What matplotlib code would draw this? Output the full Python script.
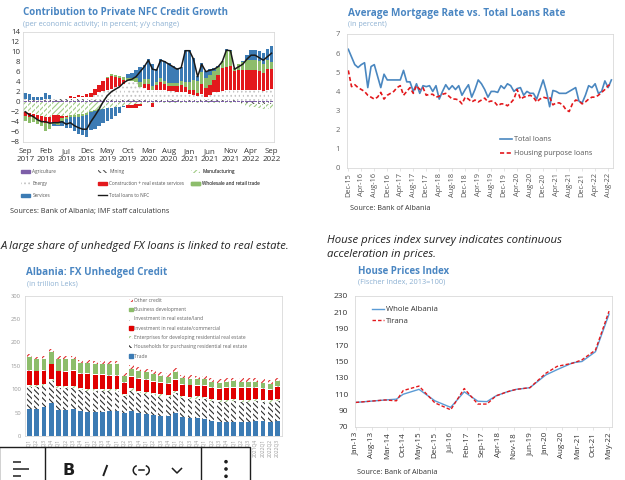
import matplotlib
matplotlib.use('Agg')
import matplotlib.pyplot as plt
from matplotlib.patches import Patch, Rectangle, Arc, Circle
from matplotlib.lines import Line2D
import numpy as np
import pandas as pd

plt.rcParams['font.family'] = ['Open Sans', 'DejaVu Sans']
plt.rcParams['hatch.linewidth'] = 0.8

W, H = 625, 480

# --- Contribution to private NFC credit growth, Sep 2017 - Sep 2022 (monthly, pp)
agriculture = [0.1, 0.1, 0.1, 0.1, 0.1, 0.1, 0.1, 0.1, 0.2, 0.2,
               0.2, 0.2, 0.2, 0.2, 0.2, 0.2, 0.1, 0.1, 0.1, 0.1,
               0.1, 0.1, 0.1, 0.1, 0.1, 0.1, 0.1, 0.1, 0.2, 0.2,
               0.2, 0.2, 0.2, 0.2, 0.2, 0.2, 0.2, 0.2, 0.2, 0.2,
               0.2, 0.2, 0.2, 0.2, 0.2, 0.2, 0.2, 0.2, 0.2, 0.2,
               0.2, 0.2, 0.2, 0.2, 0.2, 0.2, 0.2, 0.2, 0.2, 0.2, 0.2]
mining = [0.2, 0.2, 0.2, 0.2, 0.2, 0.3, 0.3, 0.3, 0.3, 0.3,
          0.3, 0.3, 0.3, 0.3, 0.3, 0.3, 0.3, 0.3, 0.3, 0.3,
          0.3, 0.3, 0.3, 0.3, 0.3, 0.3, 0.3, 0.3, 0.2, 0.2,
          0.2, 0.2, 0.2, 0.2, 0.2, 0.2, 0.2, 0.2, 0.2, 0.2,
          0.2, 0.2, 0.2, 0.2, 0.2, 0.2, 0.2, 0.2, 0.2, 0.2,
          0.2, 0.2, -0.2, -0.3, -0.3, -0.4, -0.4, -0.5, -0.5, -0.5, -0.5]
manufacturing = [-2.0, -2.2, -2.4, -2.6, -2.8, -3.0, -3.0, -2.7, -2.7, -2.8,
                 -2.8, -2.6, -2.6, -2.5, -2.4, -2.2, -1.8, -1.6, -1.5, -1.4,
                 -1.3, -1.2, -1.1, -1.0, -0.8, -0.7, -0.6, -0.5, -0.4, -0.3,
                 -0.3, -0.3, -0.2, -0.2, -0.2, -0.2, -0.2, -0.2, -0.2, -0.2,
                 -0.2, -0.2, -0.2, -0.2, -0.2, -0.2, -0.2, -0.2, -0.2, -0.2,
                 -0.2, -0.3, -0.3, -0.3, -0.5, -0.6, -0.7, -0.8, -0.9, -1.0, -1.0]
energy = [0.2, 0.1, 0.1, 0.1, 0.1, 0.1, 0.1, 0.2, 0.2, 0.3,
          0.3, 0.3, 0.3, 0.5, 0.5, 0.5, 0.5, 1.0, 1.5, 1.8,
          2.0, 2.2, 2.5, 2.8, 3.2, 3.8, 3.8, 3.5, 2.5, 2.3,
          2.0, 2.0, 2.0, 2.0, 2.0, 1.8, 1.8, 1.5, 1.5, 1.5,
          1.2, 1.0, 0.8, 1.2, 0.5, 1.0, 1.5, 1.5, 1.8, 2.0,
          2.0, 2.0, 2.2, 2.2, 2.2, 2.2, 2.2, 2.2, 2.0, 2.2, 2.3]
construction = [-0.8, -0.8, -0.6, -0.8, -1.0, -1.3, -1.2, -1.5, -1.6, -0.5,
                -0.3, 0.3, 0.2, 0.3, 0.2, 0.5, 0.8, 1.2, 1.5, 2.0,
                2.4, 2.6, 2.0, 1.5, 0.8, -0.5, -0.7, -0.8, -0.5, 0.8,
                1.2, -0.8, 1.0, 1.5, 1.2, 1.0, 1.0, 1.2, 1.5, 1.0,
                0.8, 1.0, 0.5, 2.0, 1.8, 2.0, 2.5, 3.5, 4.5, 4.5,
                4.8, 3.8, 4.0, 4.0, 4.0, 4.0, 4.0, 3.7, 3.5, 4.2, 4.0]
wholesale = [-1.0, -1.2, -1.0, -1.1, -1.1, -1.5, -1.3, -0.3, -0.3, -0.5,
             -0.4, -0.5, -0.5, -0.6, -0.5, -0.5, -0.3, -0.3, -0.2, 0.0,
             0.2, 0.3, 0.5, 0.5, 0.5, 0.5, 0.6, 0.8, 1.0, 1.0,
             1.0, 0.8, 0.6, 0.8, 0.6, 0.5, 0.5, 0.6, 0.8, 1.0,
             1.5, 2.0, 2.5, 2.3, 2.0, 2.0, 1.8, 1.5, 1.5, 3.3,
             3.0, 0.6, 1.1, 1.5, 1.9, 2.0, 2.0, 2.0, 1.8, 1.7, 1.5]
services = [1.3, 1.2, 0.6, 0.5, 0.5, 1.3, 0.8, -0.3, -0.3, -1.0,
            -1.8, -2.2, -2.7, -3.4, -3.8, -4.3, -3.6, -3.5, -3.2, -2.8,
            -2.5, -2.3, -1.8, -1.2, -0.3, 0.8, 1.0, 1.6, 3.0, 2.8,
            4.0, 4.4, 2.5, 3.8, 4.0, 4.0, 3.5, 3.0, 2.8, 6.5,
            6.5, 4.3, 1.0, 1.8, 1.5, 1.1, 0.5, 0.3, 0.0, 0.3,
            0.2, 0.0, 0.0, 0.2, 1.0, 1.9, 2.0, 2.0, 2.2, 2.2, 3.2]
total_nfc = [-2.0, -2.6, -3.0, -3.6, -4.0, -4.0, -4.3, -4.2, -4.2, -4.0,
             -4.5, -4.2, -4.8, -5.2, -5.5, -5.5, -4.0, -2.8, -1.5, 0.0,
             1.2, 2.0, 2.5, 3.0, 3.8, 4.3, 4.5, 5.0, 6.0, 7.0,
             8.3, 6.5, 6.3, 8.3, 8.0, 7.5, 7.0, 6.5, 6.8, 10.2,
             10.2, 8.5, 5.0, 7.5, 6.0, 6.3, 6.5, 7.0, 8.0, 10.3,
             10.2, 6.5, 7.0, 7.5, 8.5, 9.3, 9.3, 8.8, 8.3, 9.0, 9.7]
nfc_months = pd.period_range('2017-09', periods=61, freq='M')

# --- Average mortgage rate vs total loans rate, Dec 2015 - Sep 2022 (percent)
total_loans = [6.2, 5.8, 5.4, 5.25, 5.4, 5.5, 4.2, 5.3, 5.4, 4.8,
               4.2, 4.9, 4.6, 4.6, 4.6, 4.6, 4.6, 5.1, 4.5, 4.5,
               4.0, 4.4, 3.9, 4.3, 4.25, 4.3, 4.0, 4.3, 3.6, 4.0,
               4.35, 4.1, 4.3, 4.1, 4.3, 3.8, 4.1, 4.35, 3.7, 4.1,
               4.6, 4.4, 4.1, 3.7, 4.0, 4.0, 3.95, 4.3, 4.15, 4.4,
               4.3, 4.0, 4.15, 4.2, 3.8, 4.0, 3.9, 3.9, 3.6, 4.1,
               4.6, 4.0, 3.2, 4.05, 4.0, 3.9, 3.9, 3.9, 4.0, 4.1,
               4.2, 3.5, 3.4, 3.8, 4.3, 4.2, 4.4, 3.9, 4.0, 4.55,
               4.2, 4.6]
housing_loans = [5.1, 4.25, 4.35, 4.2, 4.1, 4.0, 3.8, 3.7, 3.6, 3.7,
                 3.95, 3.6, 3.8, 3.9, 4.0, 4.2, 4.3, 3.8, 4.0, 4.2,
                 3.9, 4.3, 4.1, 4.2, 3.8, 3.85, 3.85, 3.7, 3.75, 3.85,
                 3.9, 3.75, 3.6, 3.6, 3.55, 3.35, 3.7, 3.6, 3.45, 3.55,
                 3.45, 3.55, 3.65, 3.45, 3.5, 3.45, 3.25, 3.35, 3.35, 3.25,
                 3.4, 3.6, 4.1, 3.6, 3.7, 3.75, 3.8, 3.7, 3.45, 3.6,
                 3.7, 3.65, 3.7, 3.3, 3.4, 3.4, 3.3, 3.05, 2.95, 3.35,
                 3.55, 3.5, 3.35, 3.45, 3.6, 3.7, 3.7, 3.8, 3.95, 4.1,
                 4.3, 4.4]
rate_months = pd.period_range('2015-12', periods=82, freq='M')

# --- FX unhedged credit, 2014Q1 - 2022Q3 (trillion Leks)
fx_quarters = [str(q) for q in pd.period_range('2014Q1', '2022Q3', freq='Q')]
trade = [58, 57, 62, 70, 55, 56, 57, 53, 52, 52, 52, 53, 53, 49, 53, 50, 47, 45,
         42, 42, 49, 40, 38, 38, 37, 33, 31, 30, 31, 31, 31, 32, 32, 29, 33]
households = [46, 47, 45, 47, 47, 46, 46, 45, 45, 44, 44, 44, 44, 36, 44, 42, 42, 42,
              42, 41, 42, 41, 41, 42, 42, 42, 42, 43, 43, 42, 42, 42, 41, 42, 42]
enterprises = [4, 4, 4, 4, 4, 4, 4, 4, 4, 4, 4, 4, 4, 4, 5, 5, 5, 5,
               5, 5, 5, 5, 5, 5, 5, 5, 5, 5, 5, 5, 5, 5, 5, 5, 5]
commercial = [31, 30, 28, 32, 32, 31, 32, 30, 31, 30, 30, 28, 28, 24, 24, 24, 25, 24,
              24, 23, 24, 23, 24, 22, 23, 22, 22, 24, 24, 24, 24, 23, 23, 23, 24]
land = [2, 2, 2, 2, 2, 2, 2, 2, 2, 2, 2, 2, 2, 2, 2, 2, 2, 2,
        2, 2, 2, 2, 2, 2, 2, 2, 2, 2, 2, 2, 2, 2, 2, 2, 2]
business = [28, 24, 24, 24, 25, 25, 24, 23, 22, 22, 22, 22, 22, 14, 16, 16, 15, 15,
            14, 14, 14, 12, 12, 12, 12, 11, 11, 11, 12, 12, 12, 11, 11, 10, 11]
other_credit = [6, 5, 6, 7, 7, 7, 7, 6, 6, 7, 7, 8, 8, 6, 8, 8, 8, 8,
                8, 8, 9, 8, 8, 8, 8, 8, 8, 8, 8, 8, 8, 8, 8, 8, 8]

# --- House prices index (2013=100)
hpi_dates = ['2013-01', '2014-02', '2014-07', '2014-10', '2015-05', '2015-12', '2016-07',
             '2017-01', '2017-07', '2017-11', '2018-03', '2018-08', '2018-12', '2019-06',
             '2020-01', '2020-06', '2021-01', '2021-05', '2021-11', '2022-05']
whole_albania = [100, 103, 104, 110, 116, 102, 94, 113, 101.5, 101,
                 108, 113, 116, 118, 133.5, 140, 148.5, 150, 162, 208]
tirana = [100, 103, 102, 114.5, 120, 99.5, 91, 117, 98, 98,
          108, 113, 116, 118, 135.5, 144, 148, 152, 164, 211.5]

TITLE_C = '#4a86c2'
SUB_C = '#8cb0d2'
BLUE = '#3c7bb4'
RED = '#e3181c'
GREEN = '#8dbd6b'
FRAME = '#d9d9d9'


def px_box(x0, y0, x1, y1):
    return [x0 / W, 1 - y1 / H, (x1 - x0) / W, (y1 - y0) / H]


def frame(ax):
    for s in ax.spines.values():
        s.set_color(FRAME)
        s.set_linewidth(0.6)


fig = plt.figure(figsize=(W / 100, H / 100), dpi=100)
renderer = fig.canvas.get_renderer()

# overlay in pixel coordinates for texts, legends and the editor toolbar
ov = fig.add_axes([0, 0, 1, 1], zorder=10)
ov.set_xlim(0, W)
ov.set_ylim(H, 0)
ov.axis('off')


def label(x, y, s, width=None, size=6, **kw):
    t = ov.text(x, y, s, fontsize=size, va='center', ha='left', **kw)
    if width:
        w = t.get_window_extent(renderer).width
        t.set_fontsize(size * width / w)
    return t


# ================= top left: NFC credit growth =================
ax1 = fig.add_axes(px_box(22.7, 31.7, 274, 141.7))
x = np.arange(len(total_nfc))
styles = [
    ('Agriculture', agriculture, dict(color='#7d5fa8')),
    ('Mining', mining, dict(facecolor='white', edgecolor='#555555', hatch='\\\\\\\\\\\\', linewidth=0)),
    ('Manufacturing', manufacturing, dict(facecolor='white', edgecolor='#a0cb85', hatch='//////', linewidth=0)),
    ('Energy', energy, dict(facecolor='white', edgecolor='#c4c4c4', hatch='....', linewidth=0)),
    ('Construction + real estate services', construction, dict(color=RED)),
    ('Wholesale and retail trade', wholesale, dict(color=GREEN)),
    ('Services', services, dict(color=BLUE)),
]
pos = np.zeros(len(x))
neg = np.zeros(len(x))
handles1 = {}
for name, vals, st in styles:
    v = np.array(vals)
    ax1.bar(x, v, bottom=np.where(v >= 0, pos, neg), width=0.82, **st)
    pos += np.clip(v, 0, None)
    neg += np.clip(v, None, 0)
    handles1[name] = Patch(**st)
ax1.plot(x, total_nfc, color='#1a1a1a', lw=1.1)
handles1['Total loans to NFC'] = Line2D([], [], color='#1a1a1a', lw=1.0)
ax1.set_xlim(-0.6, 60.6)
ax1.set_ylim(-8, 14)
ax1.set_yticks(np.arange(-8, 15, 2))
ax1.set_xticks(x[::5])
ax1.set_xticklabels([p.strftime('%b\n%Y') for p in nfc_months[::5]])
ax1.tick_params(length=0, labelsize=5.7, colors='#333333', pad=2)
ax1.tick_params(axis='x', pad=4.5)
frame(ax1)

label(22.7, 12.5, 'Contribution to Private NFC Credit Growth', 207, color=TITLE_C, weight='bold')
label(22.7, 24.5, '(per economic activity; in percent; y/y change)', 158, color=SUB_C)
label(10, 211, 'Sources: Bank of Albania; IMF staff calculations', 158, color='#333333')

cols = [['Agriculture', 'Energy', 'Services'],
        ['Mining', 'Construction + real estate services', 'Total loans to NFC'],
        ['Manufacturing', 'Wholesale and retail trade']]
for cx, names in zip([21, 98, 191], cols):
    lg = ov.legend([handles1[n] for n in names], names, loc='upper left',
                   bbox_to_anchor=(cx, 169.5), bbox_transform=ov.transData,
                   frameon=False, fontsize=3.4, handlelength=2.0, handleheight=0.6,
                   handletextpad=0.4, labelspacing=1.4, borderpad=0, borderaxespad=0,
                   labelcolor='#555555')
    ov.add_artist(lg)

# ================= top right: mortgage rate =================
ax2 = fig.add_axes(px_box(347, 34, 613, 168))
xm = np.arange(len(total_loans))
ax2.plot(xm, total_loans, color='#4a87c0', lw=1.2, label='Total loans')
ax2.plot(xm, housing_loans, color=RED, lw=1.2, ls=(0, (2.5, 1.5)), label='Housing purpose loans')
ax2.set_xlim(-0.4, 81.5)
ax2.set_ylim(0, 7)
ax2.set_xticks(xm[::4])
ax2.set_xticklabels([p.strftime('%b-%y') for p in rate_months[::4]], rotation=90)
ax2.tick_params(axis='y', length=0, labelsize=5.5, colors='#666666', pad=5)
ax2.tick_params(axis='x', length=2, width=0.5, color=FRAME, labelsize=5.3,
                labelcolor='#555555', pad=1.5)
frame(ax2)
ax2.legend(loc='upper left', bbox_to_anchor=((500 - 347) / 266, (168 - 136) / 134),
           frameon=False, fontsize=5.2, handlelength=1.6, handletextpad=0.3,
           labelspacing=1.0, borderpad=0, borderaxespad=0, labelcolor='#555555')

label(348, 13.3, 'Average Mortgage Rate vs. Total Loans Rate', 216, color=TITLE_C, weight='bold')
label(348, 25, '(in percent)', 39, color=SUB_C)
label(350, 209, 'Source: Bank of Albania', 80, color='#333333')

# ================= bottom left: FX unhedged credit =================
ax3 = fig.add_axes(px_box(25, 295.7, 282, 436))
xq = np.arange(len(trade))
fx_series = [
    ('Trade', trade, dict(color=BLUE)),
    ('Households for purchasing residential real estate', households,
     dict(facecolor='white', edgecolor='#2e2e2e', hatch='\\\\\\\\\\\\', linewidth=0)),
    ('Enterprises for developing residential real estate', enterprises,
     dict(facecolor='white', edgecolor='#a0cb85', hatch='//////', linewidth=0)),
    ('Investment in real estate/commercial', commercial, dict(color='#e00000')),
    ('Investment in real estate/land', land,
     dict(facecolor='white', edgecolor='#a8a8a8', hatch='\\\\\\\\', linewidth=0)),
    ('Business development', business, dict(color=GREEN)),
    ('Other credit', other_credit,
     dict(facecolor='white', edgecolor='#e03030', hatch='//////', linewidth=0)),
]
base = np.zeros(len(xq))
h3, l3 = [], []
for name, vals, st in fx_series:
    ax3.bar(xq, vals, bottom=base, width=0.68, **st)
    base += np.array(vals)
    h3.append(Patch(**st))
    l3.append(name)
ax3.set_xlim(-0.6, 34.6)
ax3.set_ylim(0, 300)
ax3.set_yticks(np.arange(0, 301, 50))
ax3.set_xticks(xq)
ax3.set_xticklabels(fx_quarters, rotation=90)
ax3.tick_params(length=0, labelsize=4.2, colors='#999999', pad=3)
ax3.tick_params(axis='x', labelsize=3.6, pad=2)
frame(ax3)
ax3.legend(h3[::-1], l3[::-1], loc='upper left',
           bbox_to_anchor=((129 - 25) / 257, (436 - 298) / 140.3),
           frameon=False, fontsize=3.6, handlelength=0.7, handleheight=0.7,
           handletextpad=0.3, labelspacing=0.85, borderpad=0, borderaxespad=0,
           labelcolor='#666666')

label(0.5, 247, 'A large share of unhedged FX loans is linked to real estate.', 289,
      color='#222222', style='italic')
label(26, 272, 'Albania: FX Unhedged Credit', 140, color=TITLE_C, weight='bold')
label(27, 284, '(in trillion Leks)', 51, color=SUB_C)

# ================= bottom right: house prices =================
ax4 = fig.add_axes(px_box(355, 296, 612, 427))
hd = pd.to_datetime(hpi_dates)
xh = (hd.year - 2013) * 12 + hd.month - 1
ax4.plot(xh, whole_albania, color='#5b9bd5', lw=1.0, label='Whole Albania')
ax4.plot(xh, tirana, color=RED, lw=1.0, ls=(0, (2.5, 1.5)), label='Tirana')
hpi_months = pd.period_range('2013-01', periods=113, freq='M')
ax4.set_xlim(-0.3, 113.3)
ax4.set_ylim(70, 230)
ax4.set_yticks(np.arange(70, 231, 20))
ax4.set_xticks(np.arange(0, 113, 7))
ax4.set_xticklabels([p.strftime('%b-%y') for p in hpi_months[::7]], rotation=90)
ax4.tick_params(axis='y', length=0, labelsize=6, colors='#333333', pad=5)
ax4.tick_params(axis='x', length=2, width=0.5, color=FRAME, labelsize=5.8,
                labelcolor='#333333', pad=1.5)
frame(ax4)
ax4.legend(loc='upper left', bbox_to_anchor=((372 - 355) / 257, (427 - 306) / 131),
           frameon=False, fontsize=5.6, handlelength=1.6, handletextpad=0.2,
           labelspacing=0.55, borderpad=0, borderaxespad=0, labelcolor='#333333')

t = label(327, 240, 'House prices index survey indicates continuous', 236,
          color='#222222', style='italic')
label(327, 254, 'acceleration in prices.', None, t.get_fontsize(), color='#222222', style='italic')
label(358, 271, 'House Prices Index', 92, color=TITLE_C, weight='bold')
label(358, 282, '(Fischer Index, 2013=100)', 87, color=SUB_C)
label(357, 472, 'Source: Bank of Albania', 81, color='#333333')

# ================= editor toolbar at the bottom =================
ov.add_patch(Rectangle((-1, 446.7), 251, 40, facecolor='white', edgecolor='#1e1e1e', lw=1.0))
for sx in (44.7, 201.3):
    ov.plot([sx, sx], [446.7, 481], color='#1e1e1e', lw=1.0)
for yy, x1 in ((462, 21), (469, 28.5), (476, 20.5)):
    ov.plot([12.7, x1], [yy, yy], color='#1e1e1e', lw=1.1, solid_capstyle='butt')
ov.text(69, 470.5, 'B', fontsize=11.5, weight='bold', ha='center', va='center',
        color='#1e1e1e', family='DejaVu Sans')
ov.plot([107.3, 103.2], [465, 476], color='#1e1e1e', lw=1.4, solid_capstyle='butt')
ov.add_patch(Arc((138, 470.3), 9.5, 9.5, theta1=105, theta2=255, color='#1e1e1e', lw=1.1))
ov.add_patch(Arc((144.5, 470.3), 9.5, 9.5, theta1=-75, theta2=75, color='#1e1e1e', lw=1.1))
ov.plot([138.5, 144], [470.3, 470.3], color='#1e1e1e', lw=1.1)
ov.plot([172.5, 177, 181.5], [468.5, 473, 468.5], color='#1e1e1e', lw=1.1)
for yy in (461.7, 469, 476.3):
    ov.add_patch(Circle((226, yy), 1.1, color='#1e1e1e'))

fig.savefig('out.png', dpi=100)
